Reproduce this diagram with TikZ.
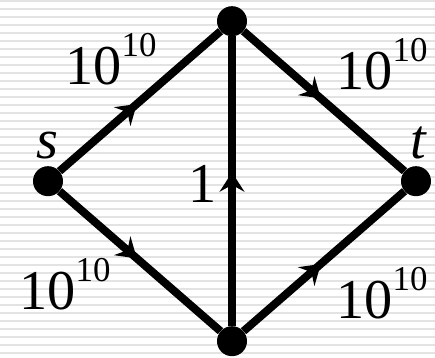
\documentclass[tikz,border=0pt]{standalone}
\usepackage{fontspec}
\setmainfont{Liberation Serif}
\usetikzlibrary{arrows.meta,decorations.markings}
\newcommand{\bigpow}{10\raisebox{0.5em}{\scalebox{0.62}{10}}}

\begin{document}
\begin{tikzpicture}[>=latex,
  vertex/.style={circle,fill=black,inner sep=0pt,minimum size=0.75cm},
  lbl/.style={inner sep=0pt,font=\fontsize{40}{44}\selectfont},
  flow/.style={line width=0.2cm,postaction={decorate},
    decoration={markings,mark=at position #1 with {\arrow{Stealth[length=0.48cm,width=0.62cm,inset=0.17cm]}}}},
  flow/.default=0.48]
  % striped background
  \fill[white] (0,0) rectangle (10.875,8.925);
  \foreach \y in {0.1,0.3,...,8.95}
    \fill[gray!22] (0,\y-0.03) rectangle (10.875,\y+0.03);
  \useasboundingbox (0,0) rectangle (10.875,8.925);
  \node[vertex] (s) at (1.2,4.4)  {};
  \node[vertex] (a) at (5.8,8.4)  {};
  \node[vertex] (t) at (10.4,4.4) {};
  \node[vertex] (b) at (5.8,0.4)  {};
  \draw[flow] (s) -- (a);
  \draw[flow] (a) -- (t);
  \draw[flow] (s) -- (b);
  \draw[flow] (b) -- (t);
  \draw[flow=0.53] (b) -- (a);
  \node[lbl] (cs) at (2.775,7.45) {\bigpow};
  \node[lbl] (ca) at (9.55,7.325) {\bigpow};
  \node[lbl] (cb) at (1.625,1.825) {\bigpow};
  \node[lbl] (ct) at (9.55,1.6)   {\bigpow};
  \node[lbl] (ls) at (1.175,5.3)  {\itshape s};
  \node[lbl] (lt) at (10.45,5.35) {\itshape t};
  \node[lbl] (l1) at (5.075,4.325) {1};
\end{tikzpicture}
\end{document}
